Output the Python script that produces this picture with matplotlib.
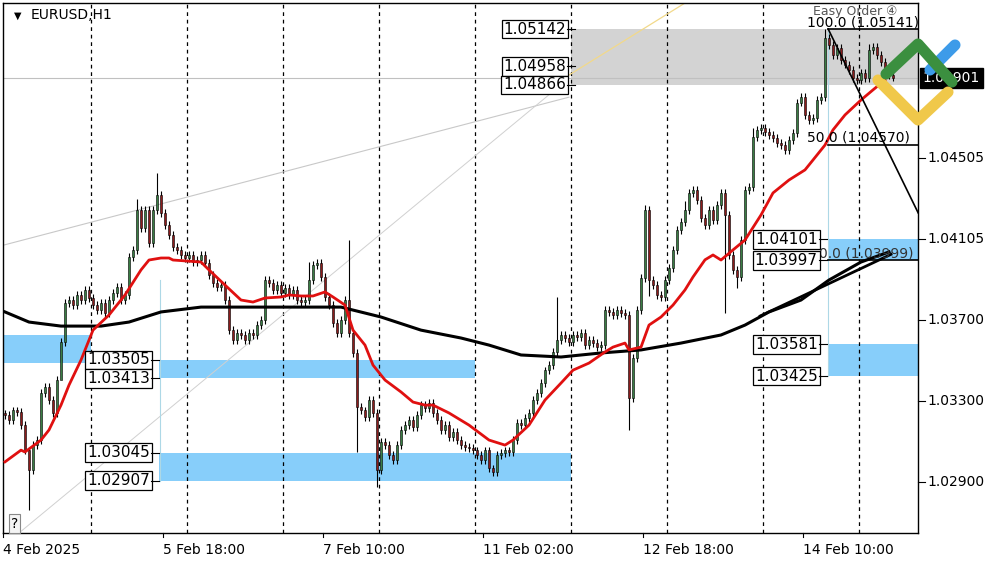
import numpy as np
import matplotlib
matplotlib.use("Agg")
import matplotlib.pyplot as plt
from matplotlib.lines import Line2D
from matplotlib.patches import Rectangle

# --- data (EURUSD H1 closes) ---
closes = [
    1.03232, 1.03207, 1.03256, 1.03247, 1.03182, 1.03058, 1.02960, 1.03083, 1.03108, 1.03341,
    1.03370, 1.03306, 1.03242, 1.03405, 1.03593, 1.03786, 1.03801, 1.03776, 1.03826, 1.03801,
    1.03851, 1.03811, 1.03776, 1.03751, 1.03786, 1.03737, 1.03801, 1.03836, 1.03865, 1.03801,
    1.03826, 1.04014, 1.04049, 1.04247, 1.04157, 1.04247, 1.04083, 1.04247, 1.04321, 1.04232,
    1.04172, 1.04123, 1.04063, 1.04049, 1.04024, 1.04009, 1.04024, 1.03989, 1.03999, 1.04024,
    1.03984, 1.03925, 1.03885, 1.03865, 1.03875, 1.03801, 1.03652, 1.03603, 1.03638, 1.03628,
    1.03603, 1.03638, 1.03628, 1.03677, 1.03702, 1.03900, 1.03885, 1.03851, 1.03875, 1.03836,
    1.03860, 1.03826, 1.03851, 1.03801, 1.03791, 1.03801, 1.03900, 1.03974, 1.03984, 1.03915,
    1.03816, 1.03776, 1.03687, 1.03638, 1.03702, 1.03801, 1.03638, 1.03539, 1.03271, 1.03256,
    1.03222, 1.03306, 1.03242, 1.02960, 1.03098, 1.03083, 1.03034, 1.03009, 1.03083, 1.03158,
    1.03182, 1.03207, 1.03172, 1.03232, 1.03281, 1.03266, 1.03291, 1.03242, 1.03207, 1.03158,
    1.03182, 1.03123, 1.03148, 1.03108, 1.03083, 1.03073, 1.03068, 1.03058, 1.03034, 1.03009,
    1.03058, 1.02969, 1.02950, 1.03034, 1.03044, 1.03058, 1.03049, 1.03108, 1.03192, 1.03182,
    1.03217, 1.03242, 1.03306, 1.03341, 1.03390, 1.03454, 1.03479, 1.03544, 1.03603, 1.03628,
    1.03613, 1.03593, 1.03628, 1.03618, 1.03638, 1.03578, 1.03603, 1.03588, 1.03568, 1.03578,
    1.03751, 1.03742, 1.03727, 1.03751, 1.03737, 1.03727, 1.03316, 1.03514, 1.03751, 1.03910,
    1.04247, 1.03900, 1.03875, 1.03826, 1.03816, 1.03900, 1.03959, 1.04049, 1.04148, 1.04187,
    1.04247, 1.04331, 1.04346, 1.04296, 1.04207, 1.04172, 1.04247, 1.04197, 1.04271, 1.04331,
    1.04222, 1.04024, 1.03950, 1.03915, 1.04098, 1.04346, 1.04360, 1.04608, 1.04643, 1.04652,
    1.04633, 1.04618, 1.04603, 1.04578, 1.04568, 1.04543, 1.04593, 1.04628, 1.04777, 1.04806,
    1.04717, 1.04692, 1.04702, 1.04791, 1.04806, 1.05098, 1.05063, 1.05014, 1.05049, 1.04989,
    1.04965, 1.04940, 1.04900, 1.04890, 1.04925, 1.04900, 1.05039, 1.05054, 1.05014, 1.04979,
    1.04940, 1.04915, 1.04901,
]
first_open = 1.03240
# long wicks that stand out (bar index -> price)
long_highs = {33: 1.04300, 38: 1.04430, 76: 1.03990, 86: 1.04098, 138: 1.03816, 160: 1.04271,
              170: 1.04290, 187: 1.04650, 205: 1.05142, 216: 1.05070}
long_lows = {6: 1.02761, 14: 1.03500, 88: 1.03048, 93: 1.02875, 122: 1.02930, 156: 1.03158,
             180: 1.03737, 183: 1.03860, 161: 1.03820}

ema_fast_bars = [0, 4, 5, 9, 11, 14, 16, 19, 22, 26, 30, 34, 36, 39, 41, 42, 49, 51, 55, 59, 62, 65,
                 69, 71, 74, 77, 80, 82, 85, 87, 90, 92, 95, 99, 102, 105, 107, 111, 116, 121, 125,
                 127, 131, 135, 139, 142, 146, 150, 152, 155, 156, 159, 161, 164, 167, 170, 172, 175,
                 177, 179, 182, 185, 189, 192, 196, 200, 202, 205, 207, 210, 214, 217, 220]
ema_fast = [1.03000, 1.03058, 1.03049, 1.03108, 1.03158, 1.03281, 1.03380, 1.03504, 1.03652, 1.03727,
            1.03826, 1.03950, 1.03999, 1.04009, 1.04009, 1.03999, 1.03989, 1.03950, 1.03875, 1.03801,
            1.03791, 1.03811, 1.03816, 1.03826, 1.03821, 1.03821, 1.03841, 1.03816, 1.03776, 1.03652,
            1.03578, 1.03479, 1.03405, 1.03346, 1.03296, 1.03281, 1.03281, 1.03242, 1.03182, 1.03108,
            1.03083, 1.03108, 1.03182, 1.03306, 1.03390, 1.03454, 1.03489, 1.03544, 1.03568, 1.03588,
            1.03554, 1.03568, 1.03677, 1.03717, 1.03776, 1.03851, 1.03915, 1.04000, 1.04024, 1.03999,
            1.04049, 1.04098, 1.04222, 1.04331, 1.04395, 1.04445, 1.04494, 1.04568, 1.04643, 1.04717,
            1.04791, 1.04841, 1.04890]

ema_slow_bars = [0, 6, 14, 24, 31, 39, 49, 61, 74, 84, 94, 104, 114, 121, 129, 139, 149, 159, 169,
                 179, 185, 191, 199, 206, 214, 221]
ema_slow = [1.03742, 1.03692, 1.03672, 1.03672, 1.03692, 1.03742, 1.03766, 1.03766, 1.03766, 1.03766,
            1.03717, 1.03652, 1.03613, 1.03578, 1.03529, 1.03519, 1.03539, 1.03554, 1.03588, 1.03628,
            1.03677, 1.03742, 1.03801, 1.03900, 1.03989, 1.04039]

right_ticks = [1.02900, 1.03300, 1.03700, 1.04105, 1.04505]
time_ticks = [-0.5, 39.5, 79.5, 119.5, 159.5, 199.5]
time_labels = ["4 Feb 2025", "5 Feb 18:00", "7 Feb 10:00", "11 Feb 02:00", "12 Feb 18:00", "14 Feb 10:00"]
day_lines = [21.5, 45.5, 69.5, 93.5, 117.5, 141.5, 165.5, 189.5, 213.5]

# zones: (x0, x1, low, high)
blue_zones = [(-0.5, 21.5, 1.03489, 1.03628), (38.5, 117.5, 1.03413, 1.03505),
              (38.5, 141.5, 1.02907, 1.03045), (205.8, 228.3, 1.03425, 1.03581),
              (205.8, 228.3, 1.03999, 1.04101)]
grey_zone = (141.5, 228.3, 1.04866, 1.05142)
last_price = 1.04901

# label boxes: (right edge bar, price, text)
level_labels = [(140.3, 1.05142, "1.05142"), (140.3, 1.04958, "1.04958"), (140.3, 1.04866, "1.04866"),
                (36.2, 1.03505, "1.03505"), (36.2, 1.03413, "1.03413"),
                (36.2, 1.03045, "1.03045"), (36.2, 1.02907, "1.02907"),
                (203.2, 1.04101, "1.04101"), (203.2, 1.03997, "1.03997"),
                (203.2, 1.03581, "1.03581"), (203.2, 1.03425, "1.03425")]

# --- figure ---
fig = plt.figure(figsize=(10, 5.62), dpi=100)
ax = fig.add_axes([0.003, 29 / 562, 0.915, 530 / 562])
x0, x1 = -0.5, 228.25
ax.set_xlim(x0, x1)
ax.set_ylim(1.02648, 1.05271)
ax.set_xticks([]); ax.set_yticks([])
for s in ax.spines.values():
    s.set_color("black"); s.set_linewidth(1)

# zones
for a, b, lo, hi in blue_zones:
    ax.add_patch(Rectangle((a, lo), b - a, hi - lo, color="#87cefa", lw=0, zorder=1))
ax.add_patch(Rectangle((grey_zone[0], grey_zone[2]), grey_zone[1] - grey_zone[0],
                       grey_zone[3] - grey_zone[2], color="#d3d3d3", lw=0, zorder=1))

for d in day_lines:
    ax.axvline(d, color="black", ls=(0, (3, 3)), lw=0.9, zorder=2)
ax.axhline(last_price, color="#c0c0c0", lw=0.8, zorder=2)

# thin trend lines
ax.plot([-0.5, 141], [1.04072, 1.04805], color="#c8c8c8", lw=0.8, zorder=2)
ax.plot([3.5, 139], [1.02648, 1.04866], color="#d0d0d0", lw=0.7, zorder=2)
ax.plot([133.5, 170], [1.04822, 1.05271], color="#f2d98a", lw=0.9, zorder=2)
ax.plot([38.7, 38.7], [1.02907, 1.03900], color="#add8e6", lw=0.8, zorder=2)
ax.plot([205.8, 205.8], [1.03425, 1.05142], color="#add8e6", lw=0.8, zorder=2)

# candles
opens = [first_open] + closes[:-1]
for i, (o, c) in enumerate(zip(opens, closes)):
    hi = long_highs.get(i, max(o, c) + 0.00018)
    lo = long_lows.get(i, min(o, c) - 0.00018)
    ax.vlines(i, lo, hi, color="black", lw=0.8, zorder=3)
    up = c >= o
    h = max(abs(c - o), 0.00004)
    ax.bar(i, h, bottom=min(o, c), width=0.65, color="#3a7d44" if up else "#8b1c1c",
           edgecolor="black", linewidth=0.4, zorder=4)

ax.plot(ema_slow_bars, ema_slow, color="black", lw=2.2, zorder=5)
ax.plot(ema_fast_bars, ema_fast, color="#e01010", lw=2.0, zorder=6)

# fibonacci / trend lines on the right
ax.plot([205.8, 228.3], [1.05142, 1.05142], color="black", lw=1.2, zorder=6)
ax.plot([205.8, 228.3], [1.04570, 1.04570], color="black", lw=1.2, zorder=6)
ax.plot([205.8, 228.3], [1.03999, 1.03999], color="black", lw=1.2, zorder=6)
ax.plot([205.8, 228.3], [1.05142, 1.04232], color="black", lw=1.2, zorder=6)
ax.plot([188.8, 221.5], [1.03722, 1.04027], color="black", lw=2.0, zorder=6)
ax.text(200.5, 1.05142, "100.0 (1.05141)", fontsize=10, va="bottom", ha="left", zorder=7)
ax.text(200.5, 1.04570, "50.0 (1.04570)", fontsize=10, va="bottom", ha="left", zorder=7)
ax.text(203.5, 1.03999, "0.0 (1.03999)", fontsize=10, va="bottom", ha="left", color="#333333", zorder=7)
ax.text(202.0, 1.05262, "Easy Order ④", fontsize=9, va="top", ha="left", color="#555555", zorder=7)

for xr, p, t in level_labels:
    ax.text(xr, p, t, fontsize=11, ha="right", va="center", zorder=8,
            bbox=dict(boxstyle="square,pad=0.12", fc="white", ec="black", lw=0.9))
    ax.plot([xr + 0.3, xr + 2.2], [p, p], color="black", lw=0.8, zorder=8)

ax.text(0.012, 0.985, "\u25bc", transform=ax.transAxes, fontsize=7, va="top")
ax.text(0.03, 0.99, "EURUSD,H1", transform=ax.transAxes, fontsize=10, va="top")
ax.text(1.5, 1.02660, "?", fontsize=10, va="bottom", ha="left",
        bbox=dict(boxstyle="square,pad=0.15", fc="#f4f4f4", ec="#888888", lw=0.8))

# right price scale
for p in right_ticks:
    ax.plot([1.0, 1.008], [p, p], transform=ax.get_yaxis_transform(), color="black",
            lw=0.8, clip_on=False)
    ax.text(1.01, p, f"{p:.5f}", transform=ax.get_yaxis_transform(), fontsize=10,
            va="center", ha="left")
ax.text(1.005, last_price, f"{last_price:.5f}", transform=ax.get_yaxis_transform(),
        fontsize=10, va="center", ha="left", color="white",
        bbox=dict(boxstyle="square,pad=0.2", fc="black", ec="black"))

# time scale
for t, lab in zip(time_ticks, time_labels):
    ax.plot([t, t], [0, -0.008], transform=ax.get_xaxis_transform(), color="black",
            lw=0.8, clip_on=False)
    ax.text(t, -0.018, lab, transform=ax.get_xaxis_transform(), fontsize=10,
            va="top", ha="left")

# logo (rough)
def fl(pts, color, lw):
    xs = [p[0] / 1000 for p in pts]
    ys = [1 - p[1] / 562 for p in pts]
    fig.add_artist(Line2D(xs, ys, color=color, lw=lw, solid_capstyle="round",
                          solid_joinstyle="round", zorder=20))
fl([(878, 80), (918, 120), (948, 92)], "#f0c84a", 8)
fl([(930, 70), (955, 45)], "#3d9be9", 8)
fl([(886, 74), (918, 44), (952, 82)], "#3b8f3f", 8)

fig.savefig("out.png", dpi=100, facecolor="white")
